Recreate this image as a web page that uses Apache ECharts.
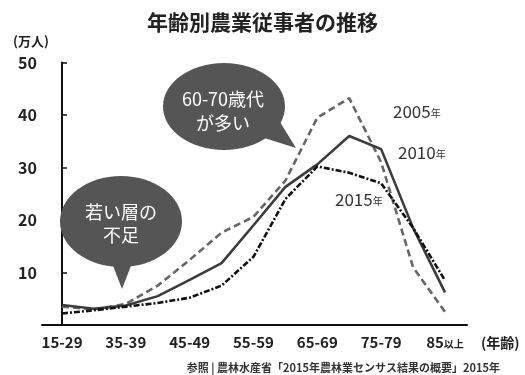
<!DOCTYPE html>
<html>
<head>
<meta charset="utf-8">
<script src="https://cdn.jsdelivr.net/npm/echarts@6/dist/echarts.min.js"></script>
<style>
  html, body { margin: 0; padding: 0; background: #fff; }
  #main { width: 525px; height: 375px; }
</style>
</head>
<body>
<div id="main"></div>
<script>
    var FONT = '"Noto Sans CJK JP", "Noto Sans", sans-serif';

    // 年齢階級 (5歳刻み、最初は15-29)
    var categories = ['15-29', '30-34', '35-39', '40-44', '45-49', '50-54', '55-59',
        '60-64', '65-69', '70-74', '75-79', '80-84', '85以上'];
    // 万人
    var y2005 = [3.5, 3.0, 4.0, 7.5, 12.4, 17.6, 20.6, 27.5, 39.5, 43.2, 31.0, 11.0, 2.5];
    var y2010 = [3.8, 3.1, 3.7, 5.5, 8.6, 11.8, 19.0, 26.3, 30.6, 36.0, 33.5, 18.5, 6.2];
    var y2015 = [2.2, 2.8, 3.5, 4.2, 5.2, 7.5, 13.0, 24.0, 30.2, 29.0, 27.0, 18.5, 8.5];
    var labelIdx = [0, 2, 4, 6, 8, 10, 12];
    var yTicks = [10, 20, 30, 40, 50];

    function pairs(arr) {
        return arr.map(function (v, i) { return [i, v]; });
    }

    var myChart = echarts.init(document.getElementById('main'));
    var option = {
        animation: false,
        title: {
            text: '年齢別農業従事者の推移',
            left: 'center',
            top: 7,
            textStyle: { fontFamily: FONT, fontSize: 21, fontWeight: 'bold', color: '#222' }
        },
        grid: { left: 42, right: 58, top: 62.5, bottom: 50 },
        xAxis: {
            type: 'value',
            min: -0.627,
            max: 12.69,
            splitLine: { show: false },
            axisTick: { show: false },
            axisLine: { lineStyle: { color: '#111', width: 2 } },
            axisLabel: {
                customValues: labelIdx,
                margin: 10,
                fontFamily: FONT,
                fontSize: 15,
                fontWeight: 'bold',
                color: '#222',
                formatter: function (v) {
                    var c = categories[v];
                    if (c === '85以上') return '{a|85}{b|以上}';
                    return c;
                },
                rich: {
                    a: { fontFamily: FONT, fontSize: 15, fontWeight: 'bold', color: '#222' },
                    b: { fontFamily: FONT, fontSize: 10, fontWeight: 'bold', color: '#222', padding: [3, 0, 0, 0] }
                }
            },
            name: '(年齢)',
            nameLocation: 'end',
            nameGap: 14,
            nameTextStyle: {
                fontFamily: FONT, fontSize: 14, fontWeight: 'bold', color: '#222',
                verticalAlign: 'top', padding: [11, 0, 0, 0]
            }
        },
        yAxis: {
            type: 'value',
            min: 0,
            max: 50,
            interval: 10,
            splitLine: { show: false },
            axisLine: { show: true, lineStyle: { color: '#111', width: 2 } },
            axisTick: { show: true, inside: true, length: 5, lineStyle: { color: '#111', width: 1.5 } },
            axisLabel: {
                margin: 5,
                fontFamily: FONT,
                fontSize: 16,
                fontWeight: 'bold',
                color: '#222',
                formatter: function (v) { return yTicks.indexOf(v) >= 0 ? String(v) : ''; }
            }
        },
        series: [{
            name: '2005年',
            type: 'line',
            symbol: 'none',
            data: pairs(y2005),
            lineStyle: { color: '#666', width: 2.6, type: [7, 4] },
            z: 3
        }, {
            name: '2010年',
            type: 'line',
            symbol: 'none',
            data: pairs(y2010),
            lineStyle: { color: '#3c3c3c', width: 2.6 },
            z: 4
        }, {
            name: '2015年',
            type: 'line',
            symbol: 'none',
            data: pairs(y2015),
            lineStyle: { color: '#111', width: 2.6, type: [6, 2, 2, 2] },
            z: 5
        }],
        graphic: [
            // (万人)
            {
                type: 'text', x: 31, y: 41,
                style: {
                    text: '(万人)', fontFamily: FONT, fontSize: 13, fontWeight: 'bold',
                    fill: '#222', align: 'center', verticalAlign: 'middle'
                }
            },
            // 吹き出し：60-70歳代が多い
            { type: 'polygon', shape: { points: [[258, 136], [280, 122], [296, 148]] }, style: { fill: '#555' }, z: 10 },
            { type: 'ellipse', shape: { cx: 224, cy: 106.5, rx: 61, ry: 43.5 }, style: { fill: '#555' }, z: 10 },
            {
                type: 'text', x: 223, y: 111, z: 11,
                style: {
                    text: '60-70歳代\nが多い', fontFamily: FONT, fontSize: 18, lineHeight: 24,
                    fill: '#fff', align: 'center', verticalAlign: 'middle'
                }
            },
            // 吹き出し：若い層の不足
            { type: 'polygon', shape: { points: [[110, 258], [134, 258], [122, 289]] }, style: { fill: '#555' }, z: 10 },
            { type: 'ellipse', shape: { cx: 121, cy: 221.5, rx: 61, ry: 45.5 }, style: { fill: '#555' }, z: 10 },
            {
                type: 'text', x: 121, y: 224, z: 11,
                style: {
                    text: '若い層の\n不足', fontFamily: FONT, fontSize: 18, lineHeight: 23,
                    fill: '#fff', align: 'center', verticalAlign: 'middle'
                }
            },
            // 系列ラベル
            {
                type: 'text', x: 393, y: 112,
                style: {
                    text: '{n|2005}{s|年}', verticalAlign: 'middle',
                    rich: {
                        n: { fontFamily: FONT, fontSize: 17, fill: '#333' },
                        s: { fontFamily: FONT, fontSize: 10, fill: '#333', padding: [3, 0, 0, 0] }
                    }
                }
            },
            {
                type: 'text', x: 398, y: 153,
                style: {
                    text: '{n|2010}{s|年}', verticalAlign: 'middle',
                    rich: {
                        n: { fontFamily: FONT, fontSize: 17, fill: '#333' },
                        s: { fontFamily: FONT, fontSize: 10, fill: '#333', padding: [3, 0, 0, 0] }
                    }
                }
            },
            {
                type: 'text', x: 335, y: 200,
                style: {
                    text: '{n|2015}{s|年}', verticalAlign: 'middle',
                    rich: {
                        n: { fontFamily: FONT, fontSize: 17, fill: '#333' },
                        s: { fontFamily: FONT, fontSize: 10, fill: '#333', padding: [3, 0, 0, 0] }
                    }
                }
            },
            // 出典
            {
                type: 'text', right: 25, top: 362,
                style: {
                    text: '参照 | 農林水産省「2015年農林業センサス結果の概要」2015年',
                    fontFamily: FONT, fontSize: 11, fontWeight: 'bold', fill: '#333'
                }
            }
        ]
    };
    myChart.setOption(option);
</script>
</body>
</html>
